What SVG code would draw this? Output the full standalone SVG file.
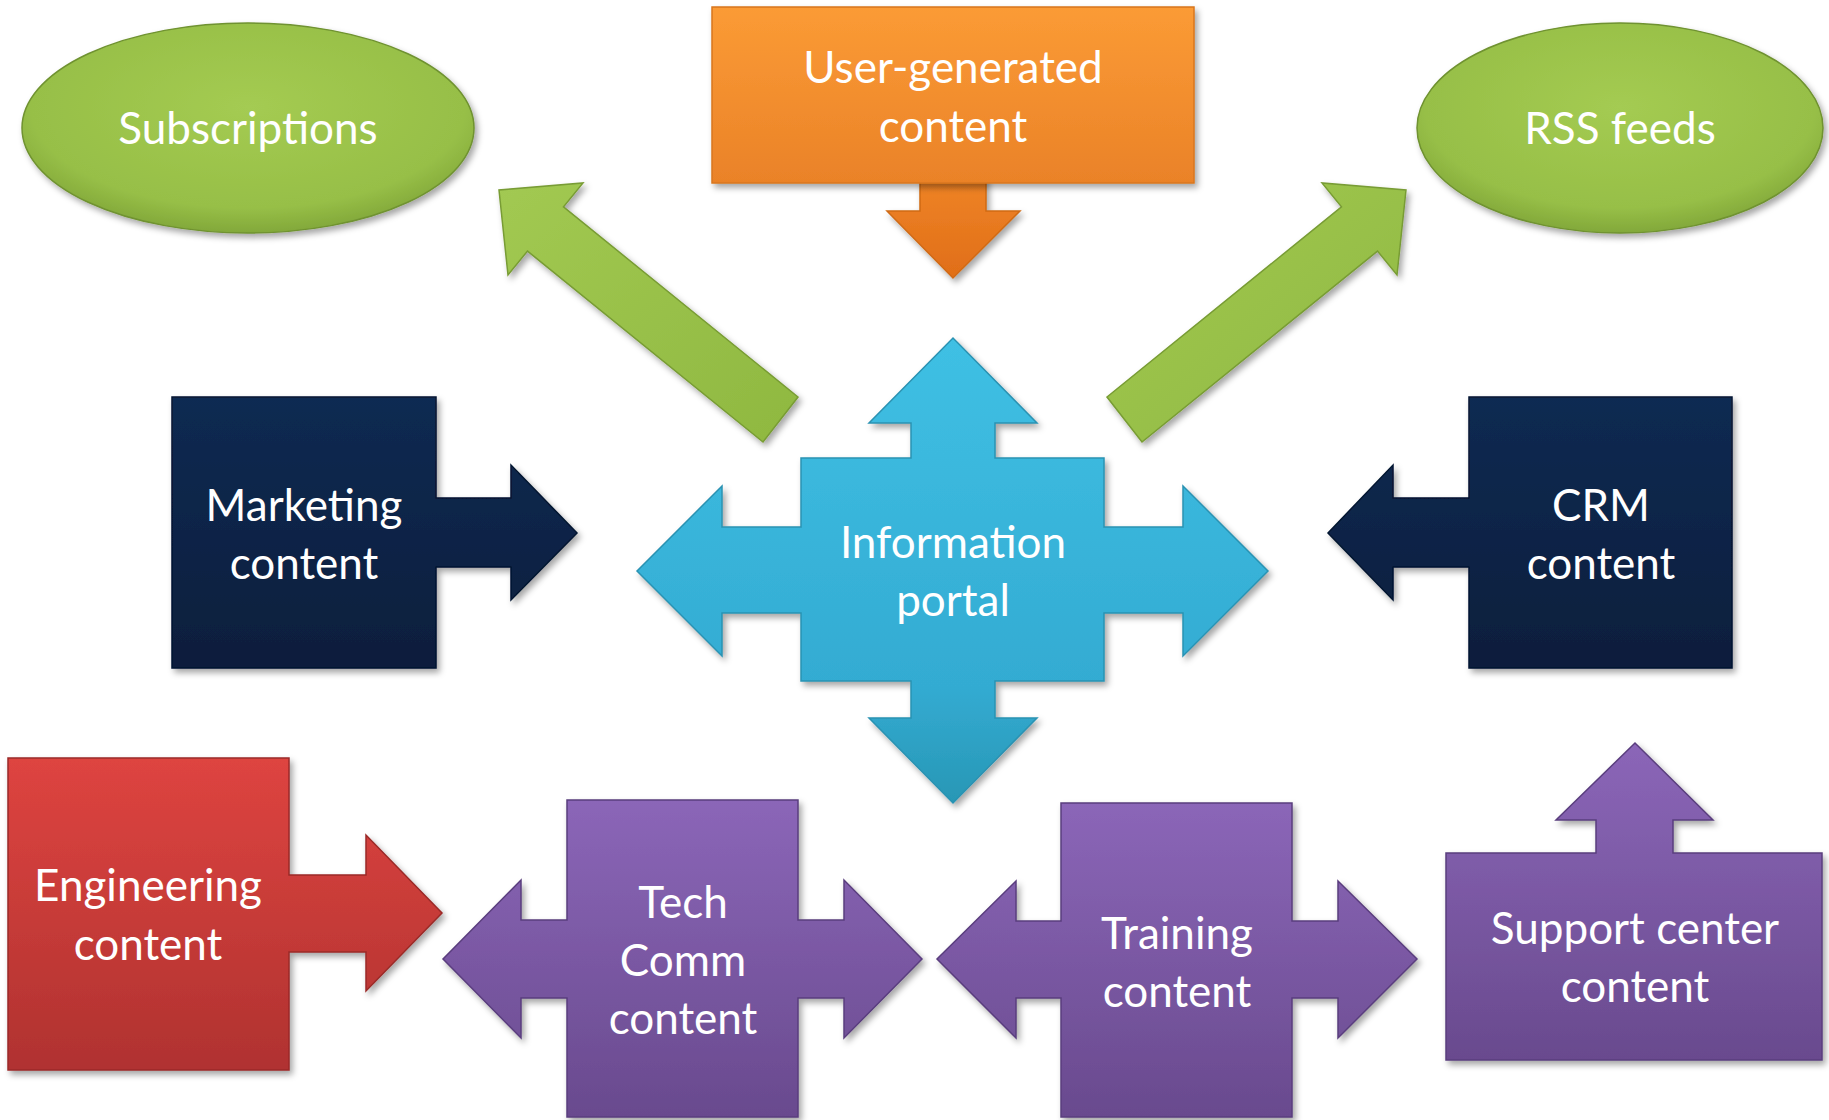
<svg xmlns="http://www.w3.org/2000/svg" width="1829" height="1120" viewBox="0 0 1829 1120">
<defs>
<linearGradient id="gOrange" x1="0" y1="0" x2="0" y2="1"><stop offset="0" stop-color="#fb9b35"/><stop offset="1" stop-color="#ea8228"/></linearGradient>
<linearGradient id="gOrangeArrow" x1="0" y1="0" x2="0" y2="1"><stop offset="0" stop-color="#f38a2a"/><stop offset="1" stop-color="#e06e18"/></linearGradient>
<radialGradient id="gGreen" cx="0.5" cy="0.4" r="0.6"><stop offset="0" stop-color="#a4cb52"/><stop offset="0.8" stop-color="#97bf47"/><stop offset="1" stop-color="#82a83a"/></radialGradient>
<linearGradient id="gGreenArrow" x1="0" y1="0" x2="1" y2="1"><stop offset="0" stop-color="#a2c952"/><stop offset="1" stop-color="#8fb840"/></linearGradient>
<linearGradient id="gNavy" x1="0" y1="0" x2="0" y2="1"><stop offset="0" stop-color="#0d2a52"/><stop offset="1" stop-color="#0a1e3c"/></linearGradient>
<linearGradient id="gCyan" x1="0" y1="0" x2="0" y2="1"><stop offset="0" stop-color="#3fc0e4"/><stop offset="0.75" stop-color="#33abd2"/><stop offset="1" stop-color="#2897b5"/></linearGradient>
<linearGradient id="gRed" x1="0" y1="0" x2="0" y2="1"><stop offset="0" stop-color="#de4440"/><stop offset="1" stop-color="#b03230"/></linearGradient>
<linearGradient id="gPurple" x1="0" y1="0" x2="0" y2="1"><stop offset="0" stop-color="#8b66b8"/><stop offset="1" stop-color="#694a8e"/></linearGradient>
<filter id="shadow" x="-10%" y="-10%" width="125%" height="125%">
<feDropShadow dx="3" dy="4" stdDeviation="3" flood-color="#000" flood-opacity="0.35"/>
</filter>
</defs>
<style>
.lbl{font-family:Lato,"Liberation Sans",sans-serif;font-size:44px;fill:#ffffff;text-anchor:middle}
.sh{filter:url(#shadow);stroke-width:1.5;stroke-linejoin:miter}
.green{fill:url(#gGreen);stroke:#6f9230}
.garrow{fill:url(#gGreenArrow);stroke:#789c34}
.orange{fill:url(#gOrange);stroke:#d8761e}
.oarrow{fill:url(#gOrangeArrow);stroke:#cf6a14}
.navy{fill:url(#gNavy);stroke:#061630}
.cyan{fill:url(#gCyan);stroke:#2a92b2}
.red{fill:url(#gRed);stroke:#9a2a28}
.purple{fill:url(#gPurple);stroke:#5a3e7e}
</style>
<rect width="1829" height="1120" fill="#ffffff"/>
<g id="connectors">
<path class="sh garrow" d="M798,397 L563.5,206.9 L583,183 L499,190 L508,275 L527.5,251.1 L763,442 Z"/>
<path class="sh garrow" d="M1107,397 L1341.5,206.9 L1322,183 L1406,190 L1397,275 L1377.5,251.1 L1142,442 Z"/>
<path class="sh oarrow" d="M920,150 H986 V211 H1020 L953,278 L887,211 H920 Z"/>
</g>
<g id="subscriptions">
<ellipse class="sh green" cx="248" cy="128" rx="226" ry="105"/>
<text class="lbl" x="248" y="144">Subscriptions</text>
</g>
<g id="rss-feeds">
<ellipse class="sh green" cx="1620" cy="128" rx="203" ry="105"/>
<text class="lbl" x="1620" y="144">RSS feeds</text>
</g>
<g id="user-generated">
<rect class="sh orange" x="712" y="7" width="482" height="176"/>
<text class="lbl" x="953" y="83">User-generated</text>
<text class="lbl" x="953" y="142">content</text>
</g>
<g id="marketing">
<path class="sh navy" d="M172,397 H436 V498 H511 V465 L577,533 L511,600 V567 H436 V668 H172 Z"/>
<text class="lbl" x="304" y="521">Marketing</text>
<text class="lbl" x="304" y="579">content</text>
</g>
<g id="crm">
<path class="sh navy" d="M1469,397 H1732 V668 H1469 V567 H1393 V600 L1328,533 L1393,465 V498 H1469 Z"/>
<text class="lbl" x="1601" y="521">CRM</text>
<text class="lbl" x="1601" y="579">content</text>
</g>
<g id="information-portal">
<path class="sh cyan" d="M801,458 H911 V423 H869 L953,338 L1037,423 H995 V458 H1104 V527 H1183 V486 L1268,571 L1183,656 V613 H1104 V681 H995 V718 H1037 L953,803 L869,718 H911 V681 H801 V613 H722 V656 L637,571 L722,486 V527 H801 Z"/>
<text class="lbl" x="953" y="558">Information</text>
<text class="lbl" x="953" y="616">portal</text>
</g>
<g id="engineering">
<path class="sh red" d="M8,758 H289 V875 H366 V835 L442,913 L366,991 V952 H289 V1070 H8 Z"/>
<text class="lbl" x="148" y="901">Engineering</text>
<text class="lbl" x="148" y="960">content</text>
</g>
<g id="tech-comm">
<path class="sh purple" d="M567,800 H798 V920 H844 V880 L922,959 L844,1038 V998 H798 V1117 H567 V998 H521 V1038 L443,959 L521,880 V920 H567 Z"/>
<text class="lbl" x="683" y="918">Tech</text>
<text class="lbl" x="683" y="976">Comm</text>
<text class="lbl" x="683" y="1034">content</text>
</g>
<g id="training">
<path class="sh purple" d="M1061,803 H1292 V921 H1338 V881 L1417,959 L1338,1038 V998 H1292 V1117 H1061 V998 H1016 V1038 L937,959 L1016,881 V921 H1061 Z"/>
<text class="lbl" x="1177" y="949">Training</text>
<text class="lbl" x="1177" y="1007">content</text>
</g>
<g id="support-center">
<path class="sh purple" d="M1446,853 H1596 V820 H1556 L1635,743 L1713,820 H1673 V853 H1822 V1060 H1446 Z"/>
<text class="lbl" x="1635" y="944">Support center</text>
<text class="lbl" x="1635" y="1002">content</text>
</g>
</svg>
